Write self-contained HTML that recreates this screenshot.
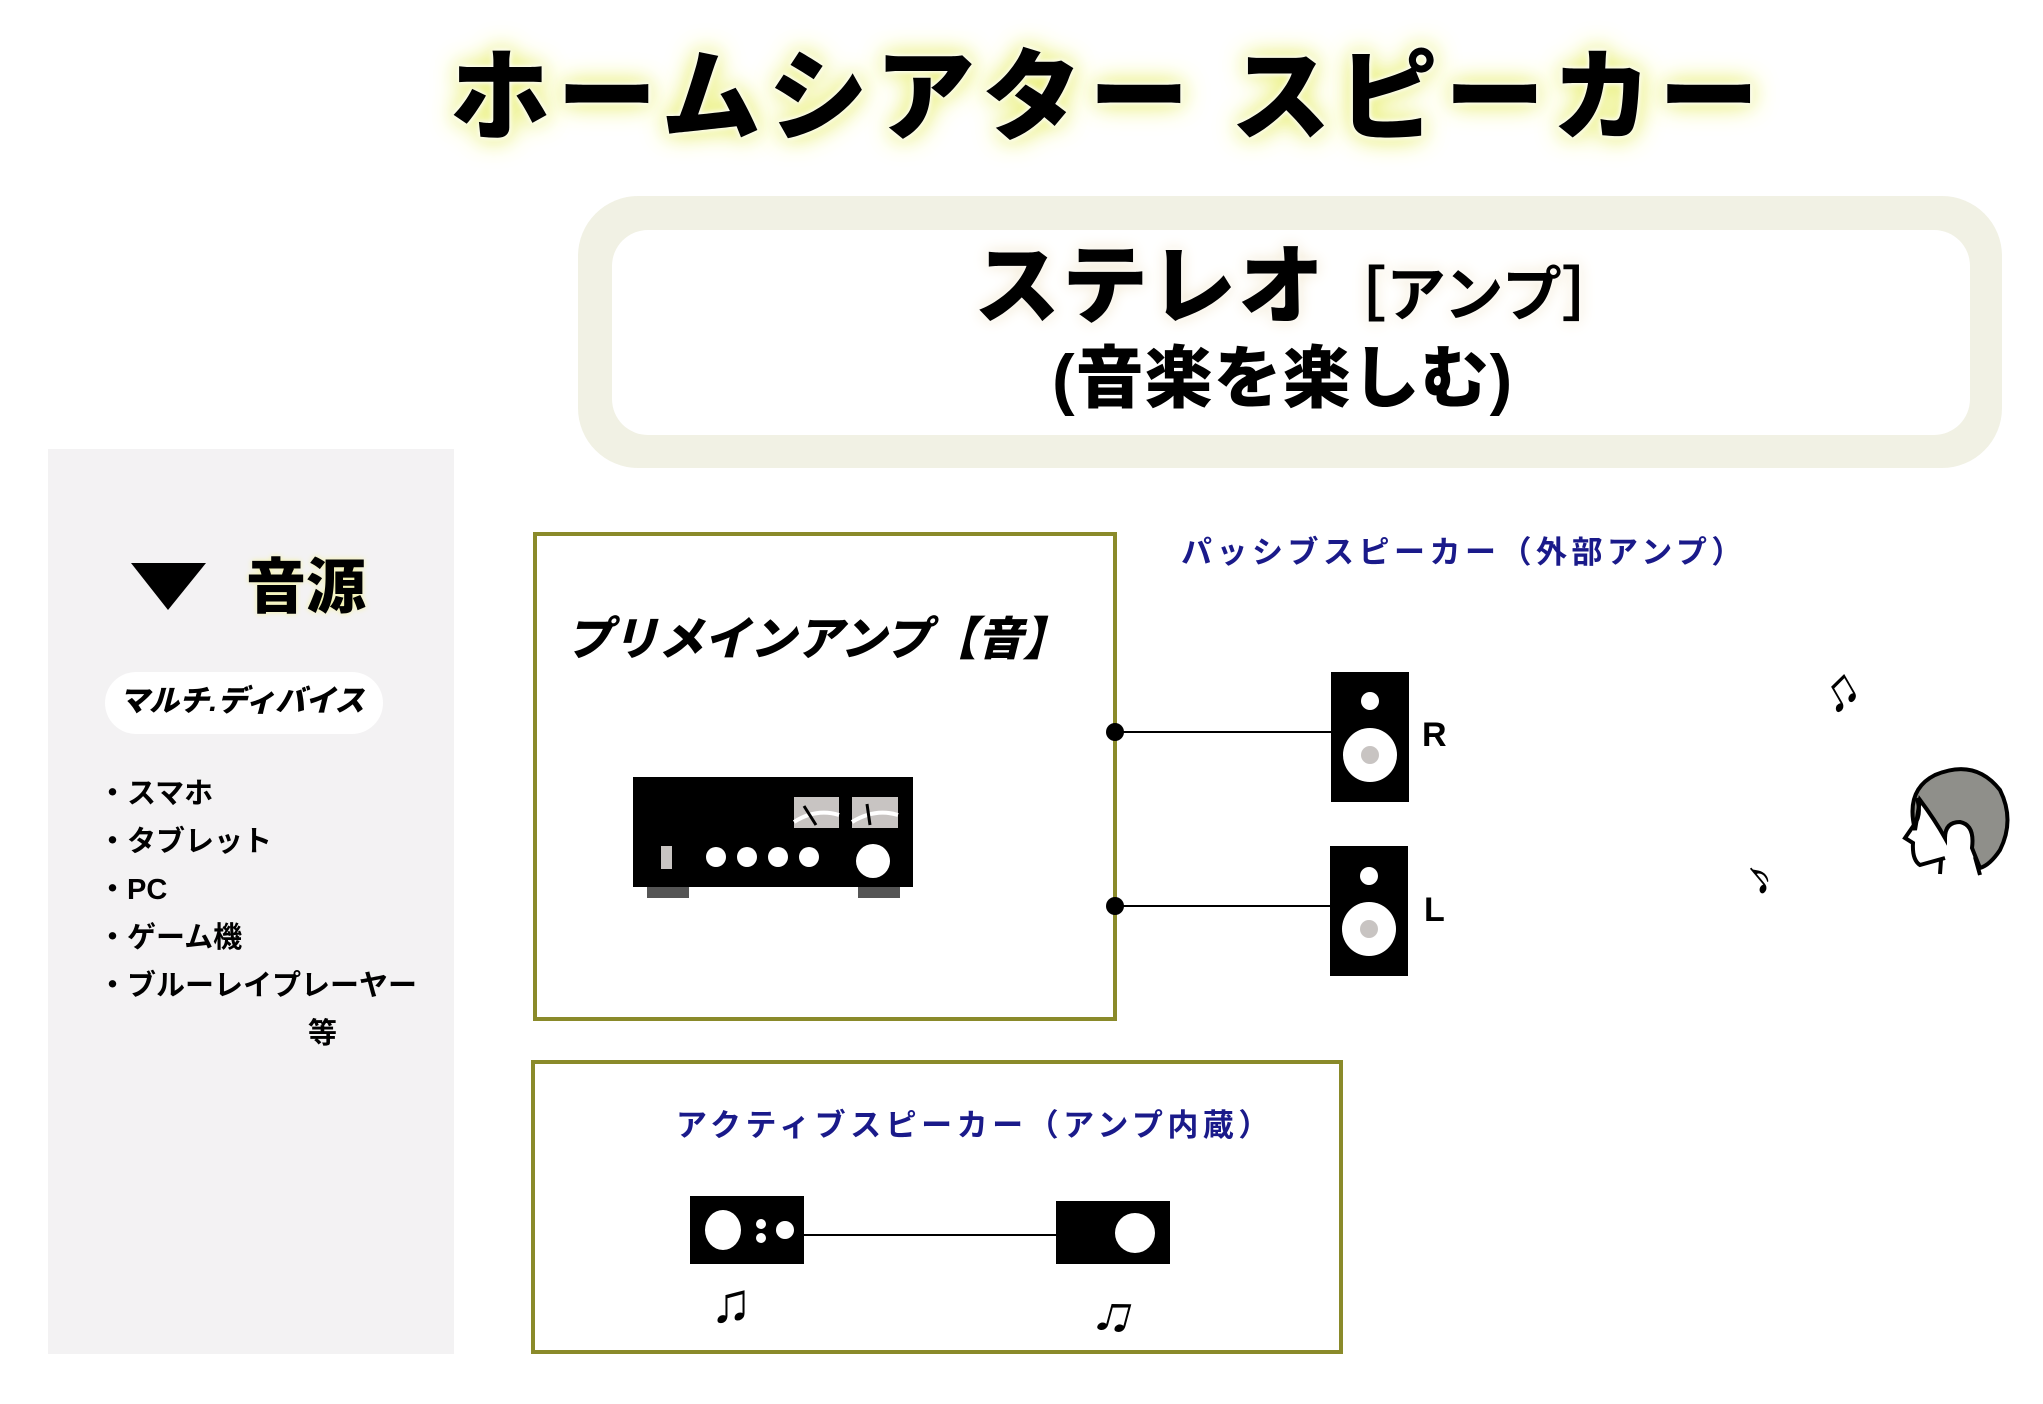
<!DOCTYPE html>
<html><head><meta charset="utf-8"><style>
html,body{margin:0;padding:0;background:#fff;}
body{width:2043px;height:1404px;position:relative;overflow:hidden;font-family:"Liberation Sans","Noto Sans CJK JP",sans-serif;}
.t{position:absolute;white-space:nowrap;font-weight:900;line-height:1;}
</style></head><body>
<svg width="2043" height="1404" style="position:absolute;left:0;top:0">
<rect x="578" y="196" width="1424" height="272" rx="60" fill="#f1f1e4"/>
<rect x="612" y="230" width="1358" height="205" rx="36" fill="#fff"/>
<rect x="48" y="449" width="406" height="905" fill="#f3f2f3"/>
<polygon points="131,563 206,563 168,610" fill="#000"/>
<rect x="105" y="672" width="278" height="62" rx="31" fill="#fff"/>
<rect x="535" y="534" width="580" height="485" fill="none" stroke="#8a8a2a" stroke-width="4"/>
<rect x="533" y="1062" width="808" height="290" fill="none" stroke="#8a8a2a" stroke-width="4"/>
<rect x="633" y="777" width="280" height="110" fill="#000"/>
<rect x="647" y="887" width="42" height="11" fill="#555"/>
<rect x="858" y="887" width="42" height="11" fill="#555"/>
<rect x="794" y="797" width="45" height="31" fill="#c8c4c2"/>
<rect x="852" y="797" width="46" height="31" fill="#c8c4c2"/>
<path d="M794 822 Q816 808 839 815" stroke="#fff" stroke-width="4" fill="none"/>
<path d="M852 822 Q875 808 898 815" stroke="#fff" stroke-width="4" fill="none"/>
<line x1="804" y1="806" x2="816" y2="825" stroke="#000" stroke-width="3"/>
<line x1="867" y1="804" x2="870" y2="825" stroke="#000" stroke-width="3"/>
<rect x="661" y="846" width="11" height="23" fill="#c8c4c2"/>
<circle cx="716" cy="857" r="10" fill="#fff"/><circle cx="747" cy="857" r="10" fill="#fff"/>
<circle cx="778" cy="857" r="10" fill="#fff"/><circle cx="809" cy="857" r="10" fill="#fff"/>
<circle cx="873" cy="861" r="17" fill="#fff"/>
<line x1="1115" y1="732" x2="1332" y2="732" stroke="#000" stroke-width="2"/>
<line x1="1115" y1="906" x2="1332" y2="906" stroke="#000" stroke-width="2"/>
<circle cx="1115" cy="732" r="9" fill="#000"/><circle cx="1115" cy="906" r="9" fill="#000"/>
<rect x="1331" y="672" width="78" height="130" fill="#000"/>
<circle cx="1370" cy="701" r="9" fill="#fff"/><circle cx="1370" cy="755" r="27" fill="#fff"/><circle cx="1370" cy="755" r="9" fill="#c8c4c2"/>
<rect x="1330" y="846" width="78" height="130" fill="#000"/>
<circle cx="1369" cy="876" r="9" fill="#fff"/><circle cx="1369" cy="929" r="27" fill="#fff"/><circle cx="1369" cy="929" r="9" fill="#c8c4c2"/>
<line x1="804" y1="1235" x2="1056" y2="1235" stroke="#000" stroke-width="2"/>
<rect x="690" y="1196" width="114" height="68" fill="#000"/>
<ellipse cx="723" cy="1230" rx="18" ry="20" fill="#fff"/><circle cx="761" cy="1224" r="5" fill="#fff"/><circle cx="761" cy="1238" r="5" fill="#fff"/><circle cx="785" cy="1230" r="9" fill="#fff"/>
<rect x="1056" y="1201" width="114" height="63" fill="#000"/>
<ellipse cx="1135" cy="1233" rx="20" ry="20" fill="#fff"/>
<path d="M1915 830 Q1905 790 1935 775 Q1975 758 2000 790 Q2015 820 2000 850 Q1990 865 1980 868 L1972 848 Q1975 825 1960 822 Q1945 822 1945 838 Q1935 820 1920 800 Z" fill="#8f8f8a" stroke="#000" stroke-width="4"/>
<path d="M1917 798 Q1922 815 1914 825 L1905 838 L1913 843 Q1912 860 1920 865 L1945 858 M1941 860 L1940 874 M1975 857 L1980 875" fill="none" stroke="#000" stroke-width="4"/>
</svg>
<div class="t" style="left:450px;top:48px;font-size:100px;color:#000;text-shadow:0 0 4px #fff,0 0 8px #fff,0 0 22px #e8ef70,0 0 30px #eef28a;letter-spacing:7px">ホームシアター スピーカー</div>
<div class="t" style="left:974px;top:244px;font-size:86px;text-shadow:0 0 6px #fff,0 0 16px #f0e4c8;letter-spacing:2px">ステレオ<span style="font-size:60px;font-weight:700;letter-spacing:0">［アンプ］</span></div>
<div class="t" style="left:1052px;top:345px;font-size:68px;letter-spacing:1px">(音楽を楽しむ)</div>
<div class="t" style="left:246px;top:558px;font-size:60px;text-shadow:0 0 6px #f4f4a0">音源</div>
<div class="t" style="left:119px;top:687px;font-size:30px;font-style:italic">マルチ.ディバイス</div>
<div class="t" style="left:98px;top:770px;font-size:29px;line-height:48px;font-weight:700">・スマホ<br>・タブレット<br>・PC<br>・ゲーム機<br>・ブルーレイプレーヤー<br><span style="padding-left:210px">等</span></div>
<div class="t" style="left:566px;top:616px;font-size:46px;font-style:italic">プリメインアンプ【音】</div>
<div class="t" style="left:1181px;top:537px;font-size:31px;color:#1a1a8a;font-weight:700;letter-spacing:4.5px">パッシブスピーカー（外部アンプ）</div>
<div class="t" style="left:676px;top:1110px;font-size:31px;color:#1a1a8a;font-weight:700;letter-spacing:4.5px">アクティブスピーカー（アンプ内蔵）</div>
<div class="t" style="left:1422px;top:718px;font-size:34px">R</div>
<div class="t" style="left:1424px;top:893px;font-size:34px">L</div>
<div class="t" style="left:710px;top:1275px;font-size:56px;font-weight:400">♫</div>
<div class="t" style="left:1094px;top:1285px;font-size:56px;font-weight:400;transform:rotate(15deg)">♫</div>
<div class="t" style="left:1820px;top:665px;font-size:52px;font-weight:400;transform:rotate(-30deg)">♫</div>
<div class="t" style="left:1745px;top:852px;font-size:50px;font-weight:400;transform:rotate(-40deg)">♪</div>
</body></html>
